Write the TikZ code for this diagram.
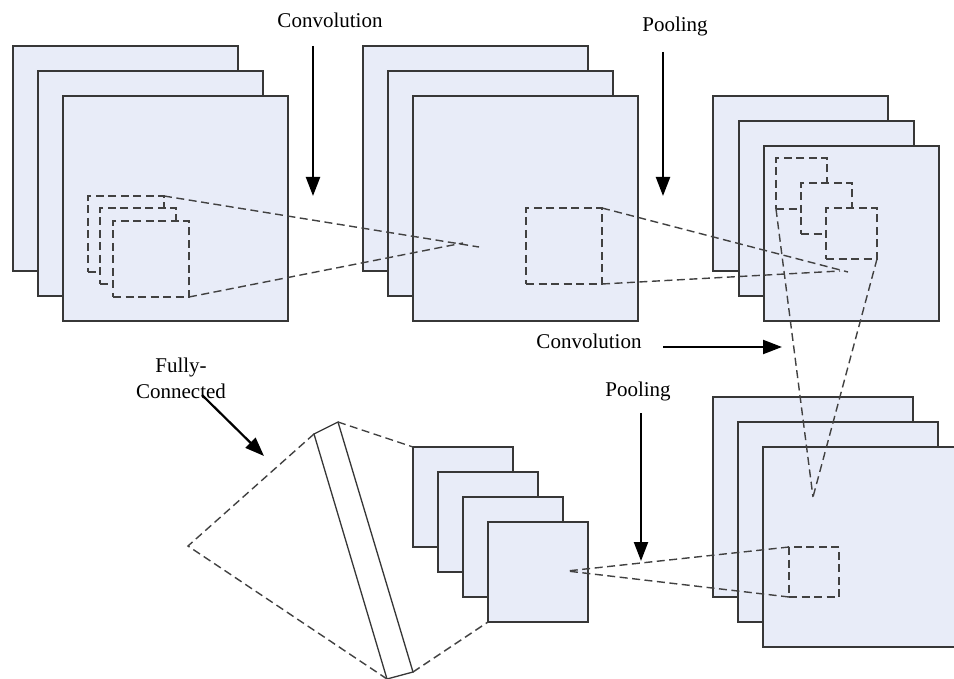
\documentclass[tikz,border=0pt]{standalone}
\usepackage{fontspec}
\setmainfont{Liberation Serif}
\usetikzlibrary{arrows.meta}
\definecolor{mapfill}{RGB}{232,236,248}
\definecolor{edgec}{RGB}{55,55,55}
\definecolor{dashc}{RGB}{65,65,65}
\begin{document}
\begin{tikzpicture}[x=1pt,y=-1pt,
  fmap/.style={draw=edgec, fill=mapfill, line width=1.3pt, minimum width=#1, minimum height=#1, anchor=north west, inner sep=0pt, outer sep=0pt},
  win/.style={draw=dashc, fill=mapfill, dash pattern=on 8pt off 4.5pt, line width=1.5pt, minimum width=#1, minimum height=#1, anchor=north west, inner sep=0pt, outer sep=0pt},
  proj/.style={draw=dashc, dash pattern=on 8pt off 4.5pt, line width=1.4pt},
  flow/.style={draw=black, line width=2.2pt, -{Triangle[length=19pt,width=14pt]}},
  lbl/.style={font=\fontsize{21}{26}\selectfont, inner sep=0pt, align=center}]
\useasboundingbox (0,0) rectangle (954,679);
\clip (0,0) rectangle (954,679);
\fill[white] (0,0) rectangle (954,679);

% layer 1
\node[fmap=225] (a1) at (13,46) {};
\node[fmap=225] (a2) at (38,71) {};
\node[fmap=225] (a3) at (63,96) {};
\node[win=76] (w1) at (88,196) {};
\node[win=76] (w2) at (100,208) {};
\node[win=76] (w3) at (113,221) {};

% layer 2
\node[fmap=225] (b1) at (363,46) {};
\node[fmap=225] (b2) at (388,71) {};
\node[fmap=225] (b3) at (413,96) {};
\node[win=76] (wb) at (526,208) {};

% layer 3
\node[fmap=175] (c1) at (713,96) {};
\node[fmap=175] (c2) at (739,121) {};
\node[fmap=175] (c3) at (764,146) {};
\node[win=51] (wc1) at (776,158) {};
\node[win=51] (wc2) at (801,183) {};
\node[win=51] (wc3) at (826,208) {};

% layer 4
\node[fmap=200] (d1) at (713,397) {};
\node[fmap=200] (d2) at (738,422) {};
\node[fmap=200] (d3) at (763,447) {};
\node[win=50] (wd) at (789,547) {};

% layer 5
\node[fmap=100] (e1) at (413,447) {};
\node[fmap=100] (e2) at (438,472) {};
\node[fmap=100] (e3) at (463,497) {};
\node[fmap=100] (e4) at (488,522) {};

% fully connected bar
\coordinate (fA) at (314,434);
\coordinate (fB) at (338,422);
\coordinate (fC) at (413,672);
\coordinate (fD) at (387,679);
\coordinate (fE) at (188,546);
\draw[edgec, line width=1.3pt, line join=miter] (fA) -- (fB) -- (fC) -- (fD) -- cycle;
\draw[proj] (fB) -- (e1.north west);
\draw[proj] (fC) -- (e4.south west);
\draw[proj] (fA) -- (fE) -- (fD);

% projection lines
\coordinate (p1a) at (479,247);
\coordinate (p1b) at (463,243);
\draw[proj] (w1.north east) -- (p1a);
\draw[proj] (w3.south east) -- (p1b);
\coordinate (p2a) at (848,272);
\coordinate (p2b) at (840,271);
\draw[proj] (wb.north east) -- (p2a);
\draw[proj] (wb.south east) -- (p2b);
\coordinate (p3) at (813,497);
\draw[proj] (wc1.south west) -- (p3);
\draw[proj] (wc3.south east) -- (p3);
\coordinate (p4) at (567,571);
\draw[proj] (wd.north west) -- (p4);
\draw[proj] (wd.south west) -- (p4);

% labels
\node[lbl] (tconv1) at (330,20) {Convolution};
\node[lbl] (tpool1) at (675,26) {Pooling};
\node[lbl] (tconv2) at (589,341) {Convolution};
\node[lbl] (tpool2) at (638,391) {Pooling};
\node[lbl] (tfc) at (181,378) {Fully-\\Connected};

% arrows
\coordinate (s1) at (313,46);  \coordinate (t1) at (313,196);
\coordinate (s2) at (663,52);  \coordinate (t2) at (663,196);
\coordinate (s3) at (663,347); \coordinate (t3) at (782,347);
\coordinate (s4) at (641,413); \coordinate (t4) at (641,561);
\coordinate (s5) at (202,395); \coordinate (t5) at (264,456);
\draw[flow] (s1) -- (t1);
\draw[flow] (s2) -- (t2);
\draw[flow] (s3) -- (t3);
\draw[flow] (s4) -- (t4);
\draw[flow] (s5) -- (t5);
\end{tikzpicture}
\end{document}
